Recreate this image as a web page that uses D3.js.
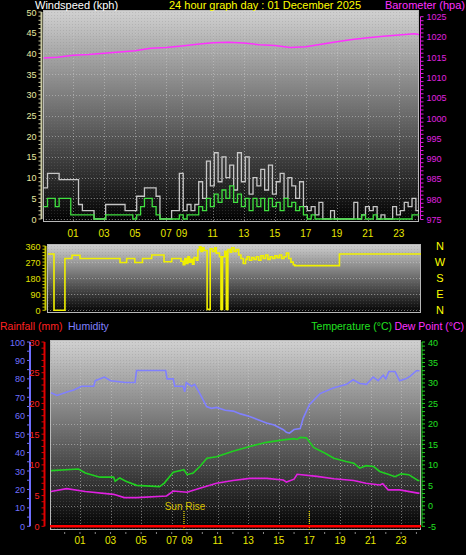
<!DOCTYPE html>
<html><head><meta charset="utf-8">
<script src="https://cdn.jsdelivr.net/npm/d3@7"></script>
<style>body{margin:0;background:#000}svg{display:block}text{font-family:"Liberation Sans",Arial,sans-serif}</style>
</head><body><svg id="c" width="466" height="555"></svg>
<script>
// ---------- data ----------
const xTickHours = [1,3,5,7,8,10,12,14,16,18,20,22];
const xTickLabels = ["01","03","05","07","09","11","13","15","17","19","21","23"];
const windStart = -0.9, windStep = 0.25;
const gust = [7.5,11, 11,11,
 9.5,9.5,9.5,9.5, 9.5,3.5,2,2, 2,0,0,0, 3.5,3.5,3.5,3.5, 3.5,2,2,2, 5.5,5.5,7.5,7.5,
 7.5,5.5,0,0, 0,2,2,11, 2,3.5,2,3.5, 9,5,14,8, 16,9,15,10, 13,7,16,9, 15,6,10,8,
 12,7,13,6, 9,11,5,10, 8,5,9,3, 2,3,1,4, 0,0,2,0, 0,0,0,0, 4,0,1,3, 2,3,0,1, 0,0,3,1, 2,4,3,5, 2,0];
const avgWind = [3,5, 5,3,
 5,5,5,1, 1,1,1,1, 1,0,0,0, 1,1,1,1, 1,1,1,0, 1,3,5,5,
 3,1,0,0, 0,0,0,1, 0,1,1,1, 3,2,5,3, 6,4,7,5, 8,4,6,3, 5,2,5,3,
 5,2,5,3, 4,2,5,3, 4,2,3,1, 0,1,0,0, 0,0,0,0, 0,0,0,0, 0,0,1,0, 0,1,0,0, 0,0,0,0, 0,0,0,1, 1,0];
const baroHours = [-0.9,0,1,2,3,4,5,6,7,8,9,10,11,12,13,14,15,16,17,18,19,20,21,22,23,23.3];
const baroValues = [1014.8,1015,1015.5,1015.7,1016,1016.3,1016.6,1017.2,1017.4,1017.8,1018.2,1018.6,1018.7,1018.5,1018.1,1017.9,1017.4,1017.6,1018.2,1018.8,1019.4,1019.8,1020.2,1020.5,1020.8,1020.6];
const dirHours = [-0.94,-0.55,0.16,0.62,1.14,3.74,4.17,4.7,5.2,5.8,6.6,7.1,7.7,7.85,7.95,8.05,8.15,8.25,8.35,8.45,8.55,8.7,8.8,8.9,9.0,9.1,9.2,9.4,9.6,9.75,9.9,10.0,10.2,10.3,10.4,10.55,10.65,10.75,10.9,11.0,11.15,11.3,11.45,11.6,11.75,11.9,12.0,12.15,12.3,12.45,12.6,12.75,12.9,13.05,13.2,13.35,13.5,13.65,13.8,13.95,14.1,14.25,14.4,14.55,14.7,14.85,15.0,15.1,18.0,23.3];
const dirValues = [315,0,290,308,290,268,290,268,290,310,272,290,275,255,290,262,300,270,285,258,295,280,340,355,330,350,335,5,345,330,350,320,300,5,300,330,5,340,325,350,330,340,310,290,262,285,300,280,295,285,300,280,305,290,310,285,300,290,305,295,310,290,300,320,290,270,255,250,315,315];
const humHours = [-0.9,-0.5,0.2,0.6,1.1,1.9,2.0,2.6,3.0,4.0,4.6,4.7,6.6,6.7,7.1,7.2,7.75,7.85,7.95,8.3,8.5,8.84,9.28,9.6,9.93,10.5,11.02,11.5,12.1,12.6,13.2,13.7,14.3,14.5,14.7,15.0,15.4,15.6,16.0,16.7,17.56,18.43,18.86,19.3,19.74,20.17,20.5,20.83,21.0,21.2,21.6,21.9,22.3,22.6,23.0,23.2];
const humValues = [72.5,71,73,74,76,76,79,81,79,78,78,84.5,84.5,80,80,76,76,73,78,76,77,72,65,64,64.5,63,62.5,61,59.6,58,56,55,52.4,51,50.5,52.5,53,58.7,66,72,75,77,79.5,77.5,77,81,79,82,80,84,84,79,80,81.5,84.4,84.4];
const tempHours = [-0.9,0.9,1.35,2.3,3.2,3.3,3.6,4.0,4.7,6.2,6.5,7.1,7.8,8.0,8.4,8.84,9.3,9.93,11.0,12.1,13.2,14.3,15.0,15.2,15.4,15.8,16.3,17.0,17.6,18.4,18.9,19.3,19.7,20.2,20.6,21.15,21.6,22.0,22.5,23.1,23.2];
const tempValues = [8.6,9.0,8.0,7.0,7.0,6.0,6.8,6.0,5.0,4.7,5.5,8.2,8.8,7.6,8.0,9.6,11.6,12.0,13.3,14.5,15.5,16.1,16.4,16.2,16.7,16.6,14.2,12.9,11.6,10.8,10.4,9.2,9.8,9.6,8.4,7.7,7.1,7.8,7.6,6.2,6.2];
const dewHours = [-0.9,0.13,1.35,3.2,3.9,4.7,6.66,7.1,8.0,8.84,9.93,11.0,12.1,13.2,14.3,14.5,15.0,15.2,16.5,17.6,18.9,19.7,20.6,20.8,21.15,21.9,23.1,23.2];
const dewValues = [3.5,4.2,3.5,2.8,2.0,2.0,2.4,3.6,3.3,4.3,5.5,6.2,6.7,6.7,6.3,5.8,6.5,7.7,7.2,6.6,6.2,5.5,5.1,5.4,3.9,3.9,3.1,3.1];
const rainHours = [-0.96,23.3];
const rainValues = [0,0];
const sunRiseHour = 7.8, sunSetHour = 16.0;
const windTicks = [0,5,10,15,20,25,30,35,40,45,50];
const baroTicks = [975,980,985,990,995,1000,1005,1010,1015,1020,1025];
const dirTicks = [0,90,180,270,360];
const compass = ["N","W","S","E","N"];
const humTicks = [0,10,20,30,40,50,60,70,80,90,100];
const rainTicks = [0,5,10,15,20,25,30];
const tempTicks = [-5,0,5,10,15,20,25,30,35,40];

// ---------- drawing ----------
const svg = d3.select("#c");
const defs = svg.append("defs");
const gr = defs.append("linearGradient").attr("id","bg").attr("x1",0).attr("x2",0).attr("y1",0).attr("y2",1);
gr.append("stop").attr("offset","0%").attr("stop-color","#d2d2d2");
gr.append("stop").attr("offset","100%").attr("stop-color","#000");
const pat = defs.append("pattern").attr("id","dots").attr("width",3).attr("height",3).attr("patternUnits","userSpaceOnUse");
pat.append("rect").attr("width",1).attr("height",1).attr("fill","rgba(128,128,128,0.25)");

function panel(x0,x1,y0,y1){
  svg.append("rect").attr("x",x0).attr("y",y0).attr("width",x1-x0).attr("height",y1-y0).attr("fill","url(#bg)");
  svg.append("rect").attr("x",x0).attr("y",y0).attr("width",x1-x0).attr("height",y1-y0).attr("fill","url(#dots)");
  svg.append("rect").attr("x",x0+0.5).attr("y",y0+0.5).attr("width",x1-x0-1).attr("height",y1-y0-1).attr("fill","none").attr("stroke","#b8b8b8");
}
function hgrid(ticks,y,x0,x1){
  svg.append("g").selectAll("line").data(ticks).join("line")
   .attr("x1",x0).attr("x2",x1).attr("y1",d=>Math.round(y(d))+0.5).attr("y2",d=>Math.round(y(d))+0.5)
   .attr("stroke","rgba(200,200,200,0.55)").attr("stroke-dasharray","1,2");
}
function vgrid(x,y0,y1){
  svg.append("g").selectAll("line").data(xTickHours).join("line")
   .attr("x1",d=>Math.round(x(d))+0.5).attr("x2",d=>Math.round(x(d))+0.5).attr("y1",y0).attr("y2",y1)
   .attr("stroke","rgba(200,200,200,0.55)").attr("stroke-dasharray","1,2");
}
function xlabels(x,y){
  svg.append("g").selectAll("text").data(xTickHours).join("text")
   .attr("x",d=>x(d)).attr("y",y).attr("text-anchor","middle").attr("font-size",10).attr("fill","#e8e800")
   .text((d,i)=>xTickLabels[i]);
}
function yaxis(ticks,y,xLine,side,color,minor,labColor){
  const g=svg.append("g");
  g.append("line").attr("x1",xLine).attr("x2",xLine).attr("y1",y(ticks[0])).attr("y2",y(ticks[ticks.length-1])).attr("stroke",color).attr("stroke-width",side==="l"?2:1);
  const mn=d3.range(ticks[0],ticks[ticks.length-1]+1e-9,minor);
  g.selectAll(".m").data(mn).join("line").attr("x1",side==="l"?xLine-3:xLine).attr("x2",side==="l"?xLine:xLine+3)
   .attr("y1",d=>y(d)).attr("y2",d=>y(d)).attr("stroke",color);
  g.selectAll("text").data(ticks).join("text").attr("x",side==="l"?xLine-5:xLine+6).attr("y",d=>y(d)+3.5)
   .attr("text-anchor",side==="l"?"end":"start").attr("font-size",9).attr("fill",labColor||color).text(d=>d);
}

// Top panel
const xT = d3.scaleLinear([-0.94,23.3],[43,419]);
const yW = d3.scaleLinear([0,50],[219,12]);
const yBa = d3.scaleLinear([975,1025],[219.5,16.7]);
panel(43,419,10,222);
hgrid(windTicks,yW,43,419); vgrid(xT,10,222);
yaxis(windTicks,yW,41.5,"l","#c8c8a0",1,"#e8e8a0");
yaxis(baroTicks,yBa,420.5,"r","#e020e0",1,"#e020e0");
const windIdx = d3.range(gust.length);
const wx = i=>xT(windStart+i*windStep);
const clipT = defs.append("clipPath").attr("id","clipT"); clipT.append("rect").attr("x",43).attr("y",10).attr("width",376).attr("height",212);
const gT = svg.append("g").attr("clip-path","url(#clipT)");
gT.append("path").attr("d",d3.line().x(wx).y(i=>yW(gust[i])).curve(d3.curveStepAfter)(windIdx)).attr("fill","none").attr("stroke","#d8d8d8").attr("stroke-width",1.3).attr("opacity",0.9);
gT.append("path").attr("d",d3.line().x(wx).y(i=>yW(avgWind[i])).curve(d3.curveStepAfter)(windIdx)).attr("fill","none").attr("stroke","#40e040").attr("stroke-width",1.3);
gT.append("path").attr("d",d3.line().x((d,i)=>xT(baroHours[i])).y((d,i)=>yBa(baroValues[i]))(baroHours)).attr("fill","none").attr("stroke","#ff30ff").attr("stroke-width",1.5);
xlabels(xT,237);
svg.append("text").attr("x",35).attr("y",9).attr("font-size",11).attr("fill","#fff").text("Windspeed (kph)");
svg.append("text").attr("x",265).attr("y",9).attr("text-anchor","middle").attr("font-size",11).attr("fill","#ffff00").text("24 hour graph day : 01 December 2025");
svg.append("text").attr("x",465).attr("y",9).attr("text-anchor","end").attr("font-size",11).attr("fill","#ff30ff").text("Barometer (hpa)");

// Middle panel
const xM = d3.scaleLinear([-0.94,23.3],[48,421]);
const yD = d3.scaleLinear([0,360],[310.3,246]);
panel(47,421,244,313);
hgrid(dirTicks,yD,47,421);
yaxis(dirTicks,yD,45.5,"l","#c8c800",18,"#e0e000");
const clipM = defs.append("clipPath").attr("id","clipM"); clipM.append("rect").attr("x",47).attr("y",244).attr("width",374).attr("height",69);
svg.append("g").attr("clip-path","url(#clipM)").append("path")
 .attr("d",d3.line().x((d,i)=>xM(dirHours[i])).y((d,i)=>yD(dirValues[i])).curve(d3.curveStepAfter)(dirHours))
 .attr("fill","none").attr("stroke","#f0f000").attr("stroke-width",1.6);
svg.append("g").selectAll("text").data(compass).join("text").attr("x",440).attr("text-anchor","middle")
 .attr("y",(d,i)=>yD(360-i*90)+4).attr("font-size",11).attr("fill","#ffff00").text(d=>d);

// Bottom panel
const xB = d3.scaleLinear([-0.96,23.3],[50,421]);
const yH = d3.scaleLinear([0,100],[526.3,342]);
const yR = d3.scaleLinear([0,30],[526.3,342]);
const yTe = d3.scaleLinear([-5,40],[526.3,342]);
panel(50,421,340,530);
hgrid(tempTicks,yTe,50,421); vgrid(xB,340,530);
yaxis(humTicks,yH,30,"l","#6e6eff",5,"#7070ff");
yaxis(rainTicks,yR,44.5,"l","#e00000",1,"#ff2020");
yaxis(tempTicks,yTe,422,"r","#20d020",1,"#20e020");
svg.append("g").selectAll("line").data(d3.range(0,24)).join("line").attr("x1",d=>xB(d)).attr("x2",d=>xB(d)).attr("y1",532).attr("y2",534).attr("stroke","#888");
const clipB = defs.append("clipPath").attr("id","clipB"); clipB.append("rect").attr("x",50).attr("y",340).attr("width",371).attr("height",190);
const gB = svg.append("g").attr("clip-path","url(#clipB)");
function series(hs,vs,y,col,w){
  gB.append("path").attr("d",d3.line().x((d,i)=>xB(hs[i])).y((d,i)=>y(vs[i]))(hs)).attr("fill","none").attr("stroke",col).attr("stroke-width",w);
}
[sunRiseHour,sunSetHour].forEach(h=>{
  gB.append("line").attr("x1",xB(h)).attr("x2",xB(h)).attr("y1",511).attr("y2",530).attr("stroke","#e0d000").attr("stroke-dasharray","1,1").attr("stroke-width",1.3);
});
series(humHours,humValues,yH,"#8080ff",1.6);
series(tempHours,tempValues,yTe,"#20d020",1.6);
series(dewHours,dewValues,yTe,"#e020e0",1.6);
series(rainHours,rainValues,yR,"#ff0000",2.5);
svg.append("text").attr("x",xB(sunRiseHour)+1).attr("y",510).attr("text-anchor","middle").attr("font-size",10).attr("fill","#d8c000").text("Sun Rise");
xlabels(xB,544);
svg.append("text").attr("x",0).attr("y",330).attr("font-size",10.5).attr("fill","#ff2020").text("Rainfall (mm)");
svg.append("text").attr("x",68).attr("y",330).attr("font-size",10.5).attr("fill","#8080ff").text("Humidity");
svg.append("text").attr("x",392).attr("y",330).attr("text-anchor","end").attr("font-size",10.5).attr("fill","#20e020").text("Temperature (°C)");
svg.append("text").attr("x",464).attr("y",330).attr("text-anchor","end").attr("font-size",10.5).attr("fill","#ff30ff").text("Dew Point (°C)");
</script></body></html>
